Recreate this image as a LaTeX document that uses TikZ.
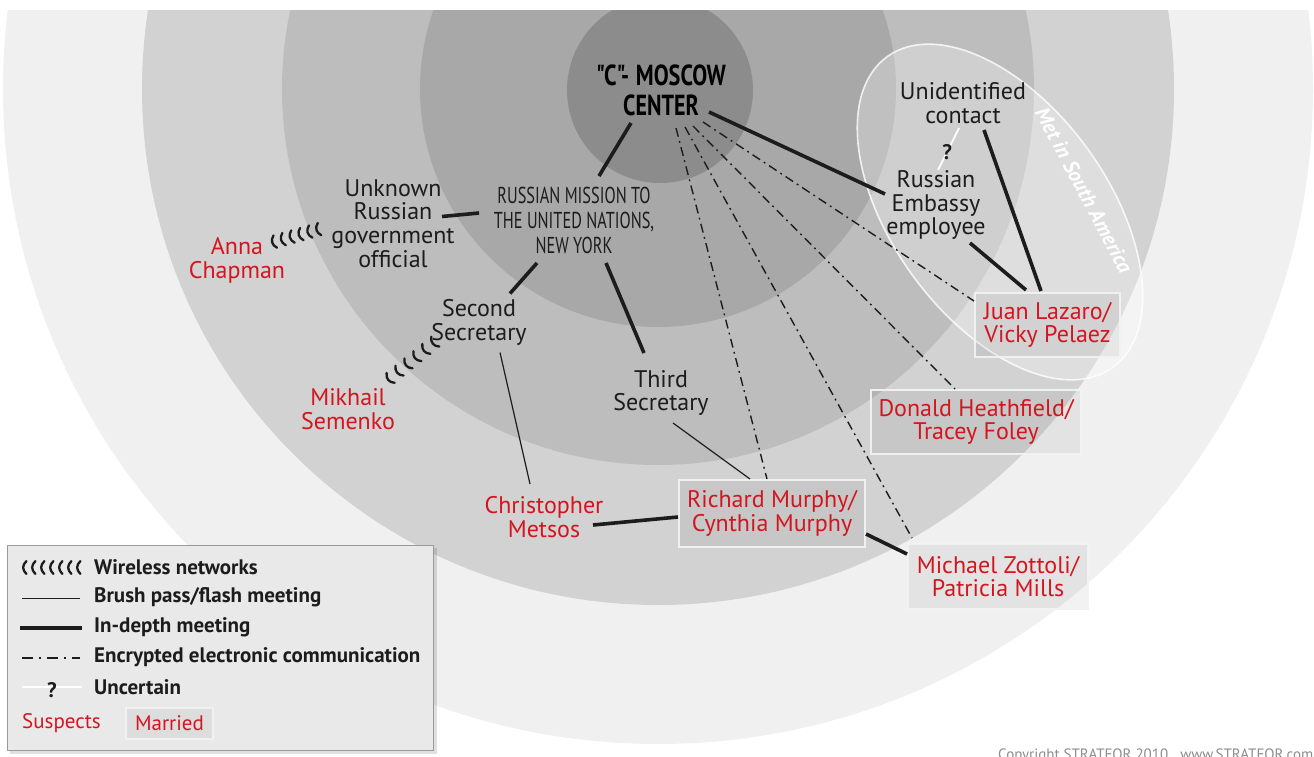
\documentclass[tikz,border=0pt]{standalone}
\usepackage{fontspec}
\setmainfont{PT Sans}
\newfontfamily\titlefont[Ligatures=TeXOff]{PT Sans}
\usetikzlibrary{decorations.markings}
\definecolor{ringA}{HTML}{F0F0F0}
\definecolor{ringB}{HTML}{D2D2D2}
\definecolor{ringC}{HTML}{BDBDBD}
\definecolor{ringD}{HTML}{A8A8A8}
\definecolor{ringE}{HTML}{8C8C8C}
\definecolor{ink}{HTML}{1C1C1C}
\definecolor{susred}{HTML}{D4151F}
\definecolor{copygray}{HTML}{8C8C8C}
\definecolor{legfill}{HTML}{E9E9E9}
\definecolor{legline}{HTML}{9A9A9A}
\tikzset{
  lbl/.style={font=\fontsize{24}{23.6}\selectfont, text=ink, align=center, inner sep=0pt},
  sus/.style={lbl, text=susred},
  couple/.style={sus, draw=black!30, draw opacity=0.8, line width=0.5pt,
    double=white, double distance=1.2pt, fill=black, fill opacity=0.05, text opacity=1},
  legtext/.style={font=\bfseries\fontsize{21}{21}\selectfont, text=ink, anchor=west, inner sep=0pt},
  indepth/.style={draw=ink, line width=3.6pt},
  brush/.style={draw=ink, line width=1.2pt},
  encr/.style={draw=ink, line width=1.4pt, dash pattern=on 9pt off 4.5pt on 1.8pt off 4.5pt},
  unc/.style={draw=white, line width=1.8pt},
  qmark/.style={font=\bfseries\fontsize{21}{21}\selectfont, text=ink, inner sep=0pt},
  wireless/.style={decoration={markings, mark=between positions 0 and 1 step #1 with
    {\draw[ink, line width=2.3pt, line cap=round] (3.4,-6.4) .. controls (-0.9,-2.4) and (-0.9,2.4) .. (3.4,6.4);}},
    postaction={decorate}},
}
\begin{document}
\begin{tikzpicture}[x=1pt,y=-1pt]
\useasboundingbox (0,0) rectangle (1314,756);
\fill[white] (0,0) rectangle (1314,756);
% concentric rings
\begin{scope}
\clip (0,10) rectangle (1314,756);
\fill[ringA] (658,89) circle[radius=655];
\fill[ringB] (658,89) circle[radius=516];
\fill[ringC] (658,89) circle[radius=376];
\fill[ringD] (658,89) circle[radius=238];
\fill[ringE] (660,90) circle[radius=93];
\end{scope}
% South America ellipse
\draw[white, line width=1.6pt, draw opacity=0.8, fill=white, fill opacity=0.28,
  rotate around={-54:(1000,212)}] (1000,212) ellipse[x radius=192, y radius=108];
\node[font=\bfseries\itshape\fontsize{21}{21}\selectfont, text=white, rotate=-62, inner sep=0pt] (met) at (1084,190) {Met in South America};
% nodes
\node[font=\titlefont\bfseries\fontsize{29}{30}\selectfont, text=black, align=center, inner sep=0pt, minimum width=140] (moscow) at (661,90)
  {\makebox[0pt]{\scalebox{0.77}[1]{"C"-\hspace{0.3em}MOSCOW}}\\\makebox[0pt]{\scalebox{0.76}[1]{CENTER}}};
\node[font=\titlefont\fontsize{23}{25}\selectfont, text=ink, align=center, inner sep=0pt] (mission) at (574,220)
  {\scalebox{0.71}[1]{RUSSIAN MISSION TO}\\\scalebox{0.71}[1]{THE UNITED NATIONS,}\\\scalebox{0.71}[1]{NEW YORK}};
\node[lbl] (unknown) at (393,223.5) {Unknown\\Russian\\government\\official};
\node[sus] (anna) at (237,260.5) {Anna\\Chapman};
\node[lbl] (second) at (479,322.5) {Second\\Secretary};
\node[sus] (mikhail) at (348,409) {Mikhail\\Semenko};
\node[lbl] (third) at (661,393) {Third\\Secretary};
\node[sus] (christopher) at (544,517) {Christopher\\Metsos};
\node[couple, minimum width=186, minimum height=67] (richard) at (772,513.5) {Richard Murphy/\\Cynthia Murphy};
\node[couple, minimum width=210, minimum height=64] (donald) at (976,422) {Donald Heathfield/\\Tracey Foley};
\node[couple, minimum width=180, minimum height=65] (michael) at (998,576.5) {Michael Zottoli/\\Patricia Mills};
\node[couple, minimum width=145, minimum height=64] (juan) at (1047.5,325) {Juan Lazaro/\\Vicky Pelaez};
\node[lbl] (unident) at (963,103) {Unidentified\\contact};
\node[lbl] (embassy) at (936,205) {Russian\\Embassy\\employee};
% connectors
\draw[indepth] ([shift={(-30,33)}]moscow.center) -- ([shift={(25,-44)}]mission.center);
\draw[indepth] ([shift={(-95,-7)}]mission.center) -- ([shift={(49,-7)}]unknown.center);
\draw[indepth] ([shift={(-37,43)}]mission.center) -- ([shift={(31,-29)}]second.center);
\draw[indepth] ([shift={(32,43)}]mission.center) -- ([shift={(-17,-40)}]third.center);
\draw[indepth] ([shift={(48,22)}]moscow.center) -- ([shift={(-51,-11)}]embassy.center);
\draw[indepth] ([shift={(34,38)}]embassy.center) -- ([shift={(-21.5,-35)}]juan.center);
\draw[indepth] ([shift={(21,27)}]unident.center) -- ([shift={(-6.5,-34)}]juan.center);
\draw[indepth] ([shift={(49,8)}]christopher.center) -- ([shift={(-94,3.5)}]richard.center);
\draw[indepth] ([shift={(94,20.5)}]richard.center) -- ([shift={(-91,-22.5)}]michael.center);
\draw[brush] ([shift={(21,30)}]second.center) -- ([shift={(-14,-33)}]christopher.center);
\draw[brush] ([shift={(12,30)}]third.center) -- ([shift={(-22,-34.5)}]richard.center);
\draw[encr] ([shift={(15,38)}]moscow.center) -- ([shift={(-5,-34.5)}]richard.center);
\draw[encr] ([shift={(24,37)}]moscow.center) -- ([shift={(-86,-38.5)}]michael.center);
\draw[encr] ([shift={(32,36)}]moscow.center) -- ([shift={(-21,-33)}]donald.center);
\draw[encr] ([shift={(42,32)}]moscow.center) -- ([shift={(-73.5,-24)}]juan.center);
\draw[unc] ([shift={(-4,25)}]unident.center) -- node[qmark, pos=0.57] (q1) {?} ([shift={(2,-35)}]embassy.center);
\path[wireless=9.2pt] ([shift={(35,-18)}]anna.center) -- ([shift={(-75,6)}]unknown.center);
\path[wireless=11.5pt] ([shift={(40,-29)}]mikhail.center) -- ([shift={(-46,21)}]second.center);
% legend
\fill[black, opacity=0.12] (10,548) rectangle (437,754);
\node[draw=legline, line width=0.8pt, fill=legfill, minimum width=426, minimum height=205, inner sep=0pt] (legend) at (220,647.5) {};
\coordinate (lwa) at (23,567.5); \coordinate (lwb) at (77.5,567.5);
\path[wireless=9pt] (lwa) -- (lwb);
\coordinate (lba) at (22,598); \coordinate (lbb) at (80,598);
\draw[brush, line width=1pt] (lba) -- (lbb);
\coordinate (lia) at (20,628); \coordinate (lib) at (82,628);
\draw[indepth, line width=4pt] (lia) -- (lib);
\coordinate (lea) at (22,658); \coordinate (leb) at (80,658);
\draw[encr, dash pattern=on 11pt off 6pt on 2pt off 6pt] (lea) -- (leb);
\coordinate (lua) at (22,687); \coordinate (lub) at (82,687);
\draw[unc, line width=2.5pt] (lua) -- node[qmark, yshift=-3pt] (q2) {?} (lub);
\node[legtext] (t1) at (94,567) {Wireless networks};
\node[legtext] (t2) at (94,597) {Brush pass/flash meeting};
\node[legtext] (t3) at (94,627) {In-depth meeting};
\node[legtext] (t4) at (94,657) {Encrypted electronic communication};
\node[legtext] (t5) at (94,687) {Uncertain};
\node[sus, font=\fontsize{21}{21}\selectfont, anchor=west] (t6) at (22,723) {Suspects};
\node[couple, font=\fontsize{21}{21}\selectfont, minimum width=87, minimum height=31] (t7) at (169.5,723.5) {Married};
% copyright
\node[font=\fontsize{15}{15}\selectfont, text=copygray, anchor=base west, inner sep=0pt] (copy) at (998,759) {Copyright STRATFOR 2010\hspace{12pt}www.STRATFOR.com};
\end{tikzpicture}
\end{document}
